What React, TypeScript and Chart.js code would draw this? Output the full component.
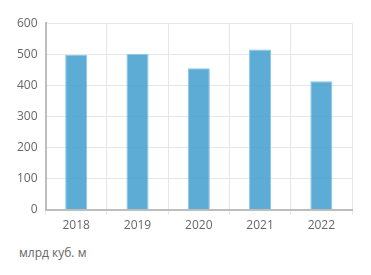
import React, { useEffect, useRef } from "react";
import { Chart, registerables } from "chart.js";

Chart.register(...registerables);

const categories = ["2018", "2019", "2020", "2021", "2022"];
const values = [498, 501, 455, 515, 413];
const yTicks = [0, 100, 200, 300, 400, 500, 600];
const unitLabel = "млрд куб. м";

export default function App() {
  const ref = useRef<HTMLCanvasElement | null>(null);
  useEffect(() => {
    if (!ref.current) return;
    const font = { family: "'Open Sans', sans-serif", size: 12 };
    const chart = new Chart(ref.current, {
      type: "bar",
      data: {
        labels: categories,
        datasets: [
          {
            data: values,
            backgroundColor: "rgba(70,160,208,0.88)",
            borderColor: "rgba(140,200,230,1)",
            borderWidth: 1,
            barPercentage: 0.36,
            categoryPercentage: 1,
          },
        ],
      },
      options: {
        animation: false,
        responsive: false,
        maintainAspectRatio: false,
        layout: { padding: { top: 8, right: 11, left: 1, bottom: 0 } },
        plugins: { legend: { display: false }, tooltip: { enabled: false } },
        scales: {
          x: {
            grid: { color: "#e6e6e6", tickLength: 5, offset: true },
            border: { color: "#bdbdbd", width: 2 },
            ticks: { color: "#666", font, padding: 4 },
          },
          y: {
            min: 0,
            max: 600,
            afterBuildTicks: (axis: any) => {
              axis.ticks = yTicks.map((v) => ({ value: v }));
            },
            grid: { color: "#e6e6e6", drawTicks: false },
            border: { color: "#bdbdbd", width: 2 },
            ticks: { color: "#666", font, padding: 8 },
          },
        },
      },
    });
    return () => chart.destroy();
  }, []);
  return (
    <div style={{ position: "relative", width: 355, height: 259 }}>
      <canvas ref={ref} width={355} height={229} style={{ display: "block" }} />
      <div
        style={{
          position: "absolute",
          left: 11,
          top: 236,
          fontFamily: "'Open Sans', sans-serif",
          fontSize: 12,
          color: "#666",
        }}
      >
        {unitLabel}
      </div>
    </div>
  );
}
